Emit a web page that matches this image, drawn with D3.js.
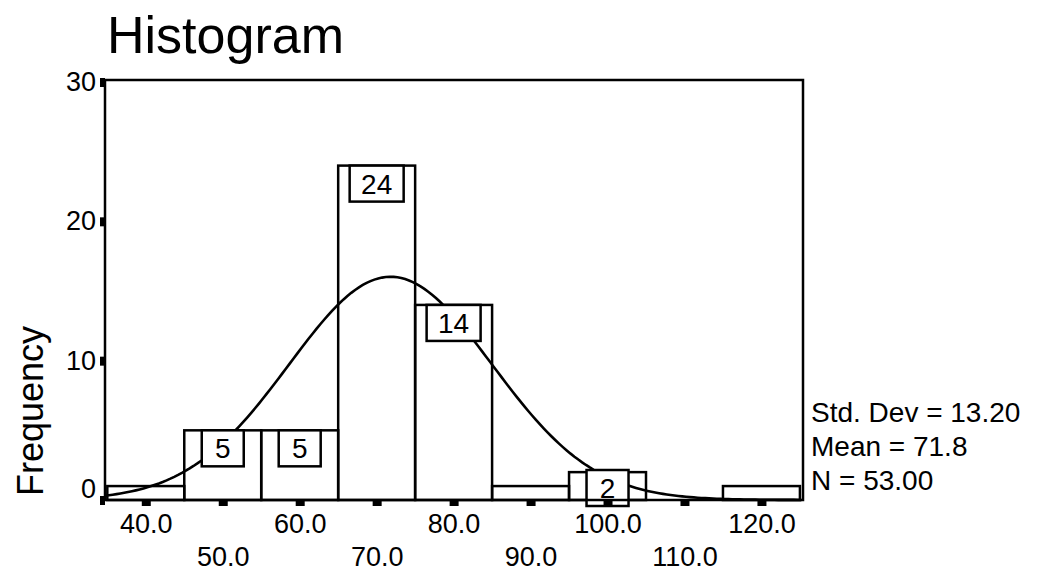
<!DOCTYPE html>
<html>
<head>
<meta charset="utf-8">
<script src="https://cdn.jsdelivr.net/npm/d3@7"></script>
<style>
  body { margin: 0; background: #fff; }
  text { font-family: "Liberation Sans", Arial, sans-serif; fill: #000; }
</style>
</head>
<body>
<div id="chart"></div>
<script>
// histogram data
const binCenters = [40, 50, 60, 70, 80, 90, 100, 110, 120];
const counts = [1, 5, 5, 24, 14, 1, 2, 0, 1];
const yTicks = [0, 10, 20, 30];
const statLabels = ["Std. Dev = 13.20", "Mean = 71.8", "N = 53.00"];
const stdDev = 13.20, mean = 71.8, nCases = 53;
const binWidth = 10;

const W = 1044, H = 577;
const svg = d3.select("#chart").append("svg")
    .attr("width", W)
    .attr("height", H);

// plot frame
const frame = {left: 105, top: 80, right: 803, bottom: 500};

const x = d3.scaleLinear()
    .domain([34.7, 125.4])
    .range([frame.left, frame.right]);

const y = d3.scaleLinear()
    .domain([0, 30])
    .range([frame.bottom, 82]);

// title
svg.append("text")
    .attr("x", 107)
    .attr("y", 53)
    .attr("font-size", 52)
    .text("Histogram");

// y axis label
svg.append("text")
    .attr("transform", `translate(43,${411}) rotate(-90)`)
    .attr("text-anchor", "middle")
    .attr("font-size", 36)
    .text("Frequency");

// bars (no fill, the curve shows through)
svg.append("g").selectAll("rect.bar")
    .data(binCenters.map((c, i) => ({c: c, n: counts[i]})).filter(d => d.n > 0))
    .enter()
    .append("rect")
    .attr("class", "bar")
    .attr("x", d => x(d.c - binWidth / 2))
    .attr("y", d => y(d.n))
    .attr("width", d => x(d.c + binWidth / 2) - x(d.c - binWidth / 2))
    .attr("height", d => y(0) - y(d.n))
    .attr("fill", "none")
    .attr("stroke", "#000")
    .attr("stroke-width", 2.5);

// normal curve from the printed mean / std dev
const curveXs = d3.range(x.domain()[0], x.domain()[1], 0.5);
const normal = v => nCases * binWidth / (stdDev * Math.sqrt(2 * Math.PI)) *
    Math.exp(-0.5 * Math.pow((v - mean) / stdDev, 2));

svg.append("path")
    .datum(curveXs)
    .attr("fill", "none")
    .attr("stroke", "#000")
    .attr("stroke-width", 2.6)
    .attr("d", d3.line().x(d => x(d)).y(d => y(normal(d))));

// count boxes on top of bars (hide the curve)
const boxH = 36;
const labelled = binCenters.map((c, i) => ({c: c, n: counts[i]})).filter(d => d.n >= 2);
const boxes = svg.append("g").selectAll("g.lbl")
    .data(labelled)
    .enter()
    .append("g")
    .attr("class", "lbl");

boxes.append("rect")
    .attr("x", d => x(d.c) - (String(d.n).length > 1 ? 27 : 21))
    .attr("y", d => Math.min(y(d.n), y(0) + 6 - boxH))
    .attr("width", d => String(d.n).length > 1 ? 54 : 42)
    .attr("height", boxH)
    .attr("fill", "#fff")
    .attr("stroke", "#000")
    .attr("stroke-width", 2.5);

boxes.append("text")
    .attr("x", d => x(d.c))
    .attr("y", d => Math.min(y(d.n), y(0) + 6 - boxH) + 28)
    .attr("text-anchor", "middle")
    .attr("font-size", 28)
    .text(d => d.n);

// frame around plot
svg.append("rect")
    .attr("x", frame.left)
    .attr("y", frame.top)
    .attr("width", frame.right - frame.left)
    .attr("height", frame.bottom - frame.top)
    .attr("fill", "none")
    .attr("stroke", "#000")
    .attr("stroke-width", 2.5);

// x axis, labels alternate over two rows
const xAxis = svg.append("g")
    .attr("transform", `translate(0,${frame.bottom})`)
    .call(d3.axisBottom(x).tickValues(binCenters).tickSize(6).tickFormat(d3.format(".1f")));
xAxis.select(".domain").remove();
xAxis.selectAll(".tick line").attr("stroke", "#000").attr("stroke-width", 9);
xAxis.selectAll(".tick text")
    .attr("font-size", 27)
    .attr("font-family", "Liberation Sans, Arial, sans-serif")
    .attr("fill", "#000")
    .attr("y", (d, i) => i % 2 === 0 ? 14 : 47);

// y axis
const yAxis = svg.append("g")
    .attr("transform", `translate(${frame.left},0)`)
    .call(d3.axisLeft(y).tickValues(yTicks).tickSize(5).tickPadding(4));
yAxis.select(".domain").remove();
yAxis.selectAll(".tick line").attr("stroke", "#000").attr("stroke-width", 9);
yAxis.selectAll(".tick text")
    .attr("font-size", 27)
    .attr("font-family", "Liberation Sans, Arial, sans-serif")
    .attr("fill", "#000")
    .attr("dy", d => d === 0 ? "-0.1em" : "0.32em");

// stats on the right
svg.append("g").selectAll("text.stat")
    .data(statLabels)
    .enter()
    .append("text")
    .attr("class", "stat")
    .attr("x", 811)
    .attr("y", (d, i) => 422 + i * 34)
    .attr("font-size", 28)
    .text(d => d);
</script>
</body>
</html>
